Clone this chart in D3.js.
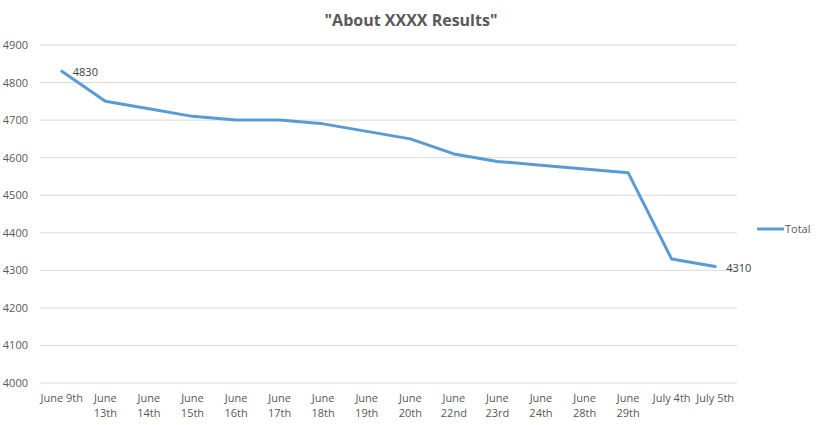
<!DOCTYPE html>
<html>
<head>
<meta charset="utf-8">
<script src="https://cdn.jsdelivr.net/npm/d3@7"></script>
<style>
  body { margin: 0; background: #fff; }
  text { font-family: "Open Sans", "Noto Sans", sans-serif; }
</style>
</head>
<body>
<svg id="chart" width="816" height="425"></svg>
<script>
const categories = ["June 9th","June 13th","June 14th","June 15th","June 16th","June 17th","June 18th","June 19th","June 20th","June 22nd","June 23rd","June 24th","June 28th","June 29th","July 4th","July 5th"];
const totals = [4830,4750,4730,4710,4700,4700,4690,4670,4650,4610,4590,4580,4570,4560,4330,4310];
const yTicks = [4000,4100,4200,4300,4400,4500,4600,4700,4800,4900];
const seriesName = "Total";
const title = "\"About XXXX Results\"";

const svg = d3.select("#chart");
const margin = {left: 40, right: 79, top: 45, bottom: 42};
const W = 816, H = 425;

const x = d3.scaleBand().domain(categories).range([margin.left, W - margin.right]);
const y = d3.scaleLinear().domain([4000, 4900]).range([H - margin.bottom, margin.top]);

svg.append("text").attr("x", 411).attr("y", 26).attr("text-anchor", "middle")
  .attr("font-size", 16).attr("font-weight", "bold").attr("fill", "#595959").text(title);

// gridlines
svg.append("g").selectAll("line").data(yTicks).join("line")
  .attr("x1", margin.left).attr("x2", W - margin.right)
  .attr("y1", d => y(d)).attr("y2", d => y(d))
  .attr("stroke", "#d9d9d9").attr("stroke-width", 1);

// y axis labels
const yAxis = d3.axisLeft(y).tickValues(yTicks).tickSize(0).tickPadding(0).tickFormat(d3.format("d"));
const yg = svg.append("g").attr("transform", `translate(${28},0)`).call(yAxis);
yg.select(".domain").remove();
yg.selectAll("text").attr("font-size", 11).attr("fill", "#595959").attr("font-family", "'Open Sans', sans-serif");

// x axis labels
const xAxis = d3.axisBottom(x).tickSize(0).tickPadding(0);
const xg = svg.append("g").attr("transform", `translate(0,${H - margin.bottom + 11})`).call(xAxis);
xg.select(".domain").remove();
xg.selectAll("text").attr("font-size", 11).attr("fill", "#595959").attr("font-family", "'Open Sans', sans-serif")
  .each(function(d) {
    const t = d3.select(this);
    const parts = d.split(" ");
    t.text(null);
    if (parts[1].length > 3) {
      t.append("tspan").attr("x", 0).attr("dy", "0.71em").text(parts[0]);
      t.append("tspan").attr("x", 0).attr("dy", "1.35em").text(parts[1]);
    } else {
      t.append("tspan").attr("x", 0).attr("dy", "0.71em").text(d);
    }
  }).attr("dy", null);

// line
const line = d3.line().x((d, i) => x(categories[i]) + x.bandwidth() / 2).y(d => y(d));
svg.append("path").datum(totals).attr("d", line)
  .attr("fill", "none").attr("stroke", "#5b9bd5").attr("stroke-width", 3)
  .attr("stroke-linejoin", "round").attr("stroke-linecap", "round");

// data labels first and last
const lastI = totals.length - 1;
[0, lastI].forEach(i => {
  svg.append("text")
    .attr("x", x(categories[i]) + x.bandwidth() / 2 + 11)
    .attr("y", y(totals[i]) + (i === 0 ? 5 : 5))
    .attr("font-size", 11).attr("fill", "#404040").text(totals[i]);
});

// legend
const ly = 229;
svg.append("line").attr("x1", 757).attr("x2", 784).attr("y1", ly).attr("y2", ly)
  .attr("stroke", "#5b9bd5").attr("stroke-width", 3);
svg.append("text").attr("x", 785).attr("y", ly + 4).attr("font-size", 11).attr("fill", "#595959").text(seriesName);
</script>
</body>
</html>
